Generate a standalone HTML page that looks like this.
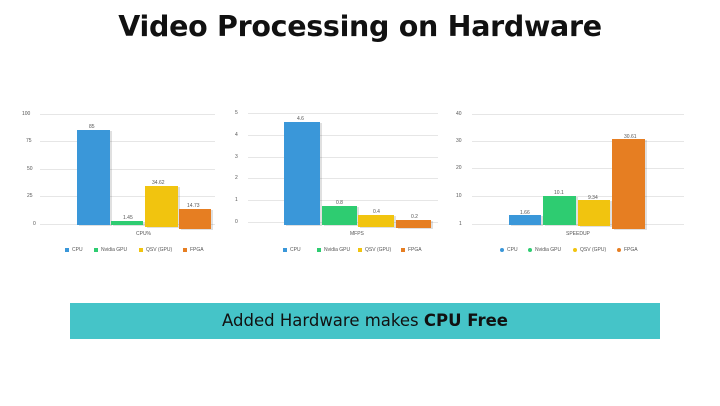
<!DOCTYPE html><html><head><style>
body{margin:0;width:720px;height:406px;background:#fff;position:relative;overflow:hidden;font-family:"Liberation Sans",sans-serif}
.a{position:absolute}
.t{font-size:5px;color:#555}
.g{position:absolute;height:1px;background:#e6e6e6}
.b{position:absolute;box-shadow:2px 1px 0 rgba(0,0,0,.12)}
.l{position:absolute;font-size:5px;color:#555;white-space:nowrap}
.l i{display:inline-block;width:4px;height:4px;margin-right:3px;vertical-align:middle}
</style></head><body>
<div class="a" style="left:0;width:720px;top:10px;text-align:center;font-size:28.5px;font-weight:bold;color:#111;font-family:'DejaVu Sans',sans-serif;letter-spacing:-0.3px">Video Processing on Hardware</div>

<!-- chart 1 -->
<div class="g" style="left:40px;width:175px;top:114px"></div>
<div class="g" style="left:40px;width:175px;top:141px"></div>
<div class="g" style="left:40px;width:175px;top:169px"></div>
<div class="g" style="left:40px;width:175px;top:196px"></div>
<div class="g" style="left:40px;width:175px;top:224px"></div>
<div class="a t" style="left:22px;top:111px">100</div>
<div class="a t" style="left:26px;top:138px">75</div>
<div class="a t" style="left:27px;top:166px">50</div>
<div class="a t" style="left:27px;top:193px">25</div>
<div class="a t" style="left:33px;top:221px">0</div>
<div class="b" style="left:77px;top:130px;width:33px;height:95px;background:#3a97d9"></div>
<div class="b" style="left:111px;top:221px;width:32px;height:4px;background:#2ecc71"></div>
<div class="b" style="left:145px;top:186px;width:33px;height:41px;background:#f1c40f"></div>
<div class="b" style="left:179px;top:209px;width:32px;height:20px;background:#e67e22"></div>
<div class="a t" style="left:89px;top:124px">85</div>
<div class="a t" style="left:123px;top:215px">1.45</div>
<div class="a t" style="left:152px;top:180px">34.62</div>
<div class="a t" style="left:187px;top:203px">14.73</div>
<div class="a t" style="left:136px;top:231px">CPU%</div>
<div class="l" style="left:65px;top:247px"><i style="background:#3a97d9"></i>CPU</div>
<div class="l" style="left:94px;top:247px"><i style="background:#2ecc71"></i>Nvidia GPU</div>
<div class="l" style="left:139px;top:247px"><i style="background:#f1c40f"></i>QSV (GPU)</div>
<div class="l" style="left:183px;top:247px"><i style="background:#e67e22"></i>FPGA</div>

<!-- chart 2 -->
<div class="g" style="left:248px;width:190px;top:113px"></div>
<div class="g" style="left:248px;width:190px;top:135px"></div>
<div class="g" style="left:248px;width:190px;top:157px"></div>
<div class="g" style="left:248px;width:190px;top:178px"></div>
<div class="g" style="left:248px;width:190px;top:200px"></div>
<div class="g" style="left:248px;width:190px;top:222px"></div>
<div class="a t" style="left:235px;top:110px">5</div>
<div class="a t" style="left:235px;top:132px">4</div>
<div class="a t" style="left:235px;top:154px">3</div>
<div class="a t" style="left:235px;top:175px">2</div>
<div class="a t" style="left:235px;top:197px">1</div>
<div class="a t" style="left:235px;top:219px">0</div>
<div class="b" style="left:284px;top:122px;width:36px;height:103px;background:#3a97d9"></div>
<div class="b" style="left:322px;top:206px;width:35px;height:19px;background:#2ecc71"></div>
<div class="b" style="left:358px;top:215px;width:36px;height:12px;background:#f1c40f"></div>
<div class="b" style="left:396px;top:220px;width:35px;height:8px;background:#e67e22"></div>
<div class="a t" style="left:297px;top:116px">4.6</div>
<div class="a t" style="left:336px;top:200px">0.8</div>
<div class="a t" style="left:373px;top:209px">0.4</div>
<div class="a t" style="left:411px;top:214px">0.2</div>
<div class="a t" style="left:350px;top:231px">MFPS</div>
<div class="l" style="left:283px;top:247px"><i style="background:#3a97d9"></i>CPU</div>
<div class="l" style="left:317px;top:247px"><i style="background:#2ecc71"></i>Nvidia GPU</div>
<div class="l" style="left:358px;top:247px"><i style="background:#f1c40f"></i>QSV (GPU)</div>
<div class="l" style="left:401px;top:247px"><i style="background:#e67e22"></i>FPGA</div>

<!-- chart 3 -->
<div class="g" style="left:472px;width:212px;top:114px"></div>
<div class="g" style="left:472px;width:212px;top:141px"></div>
<div class="g" style="left:472px;width:212px;top:168px"></div>
<div class="g" style="left:472px;width:212px;top:196px"></div>
<div class="g" style="left:472px;width:212px;top:224px"></div>
<div class="a t" style="left:456px;top:111px">40</div>
<div class="a t" style="left:456px;top:138px">30</div>
<div class="a t" style="left:456px;top:165px">20</div>
<div class="a t" style="left:456px;top:193px">10</div>
<div class="a t" style="left:459px;top:221px">1</div>
<div class="b" style="left:509px;top:215px;width:32px;height:10px;background:#3a97d9"></div>
<div class="b" style="left:543px;top:196px;width:33px;height:29px;background:#2ecc71"></div>
<div class="b" style="left:578px;top:200px;width:32px;height:26px;background:#f1c40f"></div>
<div class="b" style="left:612px;top:139px;width:33px;height:90px;background:#e67e22"></div>
<div class="a t" style="left:520px;top:210px">1.66</div>
<div class="a t" style="left:554px;top:190px">10.1</div>
<div class="a t" style="left:588px;top:195px">9.34</div>
<div class="a t" style="left:624px;top:134px">30.61</div>
<div class="a t" style="left:566px;top:231px">SPEEDUP</div>
<div class="l" style="left:500px;top:247px"><i style="background:#3a97d9;border-radius:50%"></i>CPU</div>
<div class="l" style="left:528px;top:247px"><i style="background:#2ecc71;border-radius:50%"></i>Nvidia GPU</div>
<div class="l" style="left:573px;top:247px"><i style="background:#f1c40f;border-radius:50%"></i>QSV (GPU)</div>
<div class="l" style="left:617px;top:247px"><i style="background:#e67e22;border-radius:50%"></i>FPGA</div>

<div class="a" style="left:70px;top:303px;width:590px;height:36px;background:#45c4c8;text-align:center;line-height:36px;font-size:16.5px;color:#111;font-family:'DejaVu Sans',sans-serif">Added Hardware makes <b>CPU Free</b></div>
</body></html>
